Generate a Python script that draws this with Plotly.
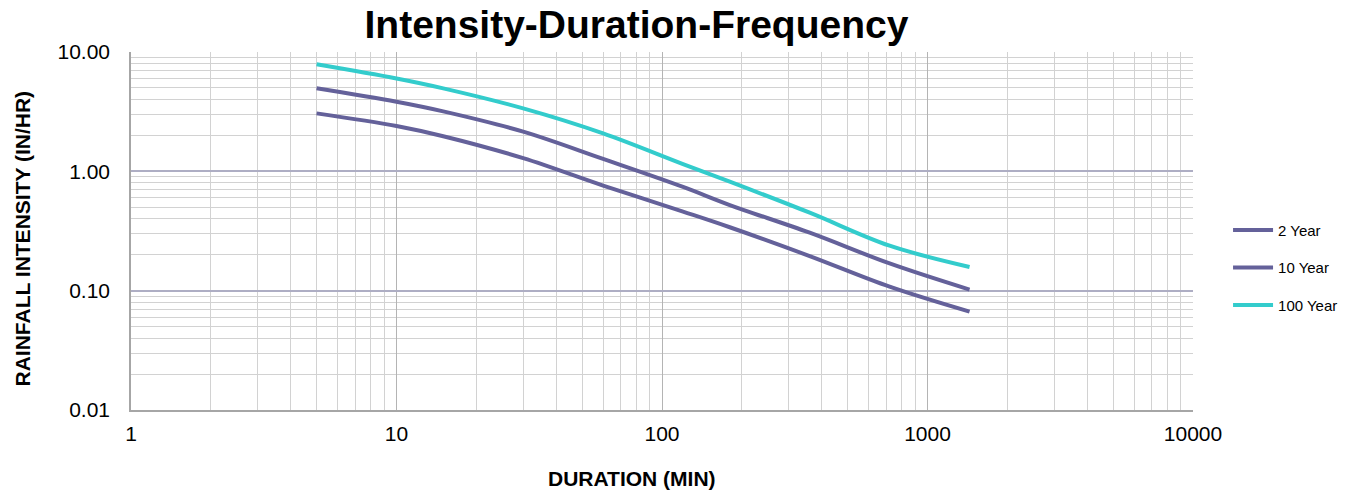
import plotly.graph_objects as go

durations = [5, 10, 15, 30, 60, 120, 180, 360, 720, 1440]
year2 = [3.06, 2.40, 1.97, 1.29, 0.76, 0.46, 0.34, 0.195, 0.108, 0.0667]
year10 = [4.96, 3.83, 3.18, 2.15, 1.27, 0.74, 0.522, 0.306, 0.169, 0.102]
year100 = [7.89, 6.00, 4.96, 3.37, 2.08, 1.15, 0.82, 0.45, 0.238, 0.158]

series_names = ["2 Year", "10 Year", "100 Year"]
series_colors = ["#64619a", "#64619a", "#33cccc"]

y_tickvals = [0.01, 0.1, 1, 10]
y_ticktext = ["0.01", "0.10", "1.00", "10.00"]
x_tickvals = [1, 10, 100, 1000, 10000]
x_ticktext = ["1", "10", "100", "1000", "10000"]

fig = go.Figure()
for i, (name, vals, col) in enumerate(zip(series_names, [year2, year10, year100], series_colors)):
    fig.add_trace(go.Scatter(
        x=durations, y=vals, mode="lines", name=name,
        line=dict(color=col, width=4, shape="spline", smoothing=1.0),
        legendgroup="g%d" % i,
    ))

font_family = "Liberation Sans, Arial, sans-serif"

fig.update_layout(
    width=1357, height=491,
    margin=dict(l=131, r=164, t=52, b=81),
    paper_bgcolor="white", plot_bgcolor="white",
    font=dict(family=font_family, color="#000000"),
    title=dict(text="<b>Intensity-Duration-Frequency</b>", x=0.469, xanchor="center",
               xref="container", y=0.95, yanchor="middle", yref="container",
               font=dict(size=39, family=font_family, color="#000000")),
    showlegend=True,
    legend=dict(x=1.033, xanchor="left", y=0.397, yanchor="middle",
                font=dict(size=15, family=font_family, color="#000000"),
                tracegroupgap=15, itemwidth=40, bgcolor="rgba(0,0,0,0)"),
    annotations=[
        dict(text="<b>DURATION (MIN)</b>", xref="paper", yref="paper",
             x=0.4722, y=-0.19, xanchor="center", yanchor="middle", showarrow=False,
             font=dict(size=21, family=font_family, color="#000000")),
        dict(text="<b>RAINFALL INTENSITY (IN/HR)</b>", xref="paper", yref="paper",
             x=-0.1022, y=0.4804, xanchor="center", yanchor="middle", showarrow=False,
             textangle=-90,
             font=dict(size=21, family=font_family, color="#000000")),
    ],
)

fig.update_xaxes(
    type="log", range=[0, 4], automargin=False,
    tickvals=x_tickvals, ticktext=x_ticktext,
    tickfont=dict(size=21, family=font_family, color="#000000"),
    showgrid=True, gridcolor="#b4b4b4", gridwidth=1.3,
    minor=dict(dtick="D1", showgrid=True, gridcolor="#d2d2d2", gridwidth=1),
    showline=True, linecolor="#a6a6a6", linewidth=1.5,
    ticks="", zeroline=False, ticklabelstandoff=4,
)
fig.update_yaxes(
    type="log", range=[-2, 1], automargin=False,
    tickvals=y_tickvals, ticktext=y_ticktext,
    tickfont=dict(size=21, family=font_family, color="#000000"),
    showgrid=True, gridcolor="#aeaec4", gridwidth=1.5,
    minor=dict(dtick="D1", showgrid=True, gridcolor="#d2d2d2", gridwidth=1),
    showline=True, linecolor="#a6a6a6", linewidth=1.5,
    ticks="", zeroline=False, ticklabelstandoff=15,
)

fig.write_html("out.html", config={"displayModeBar": False},
               post_script="document.body.style.margin='0';")
